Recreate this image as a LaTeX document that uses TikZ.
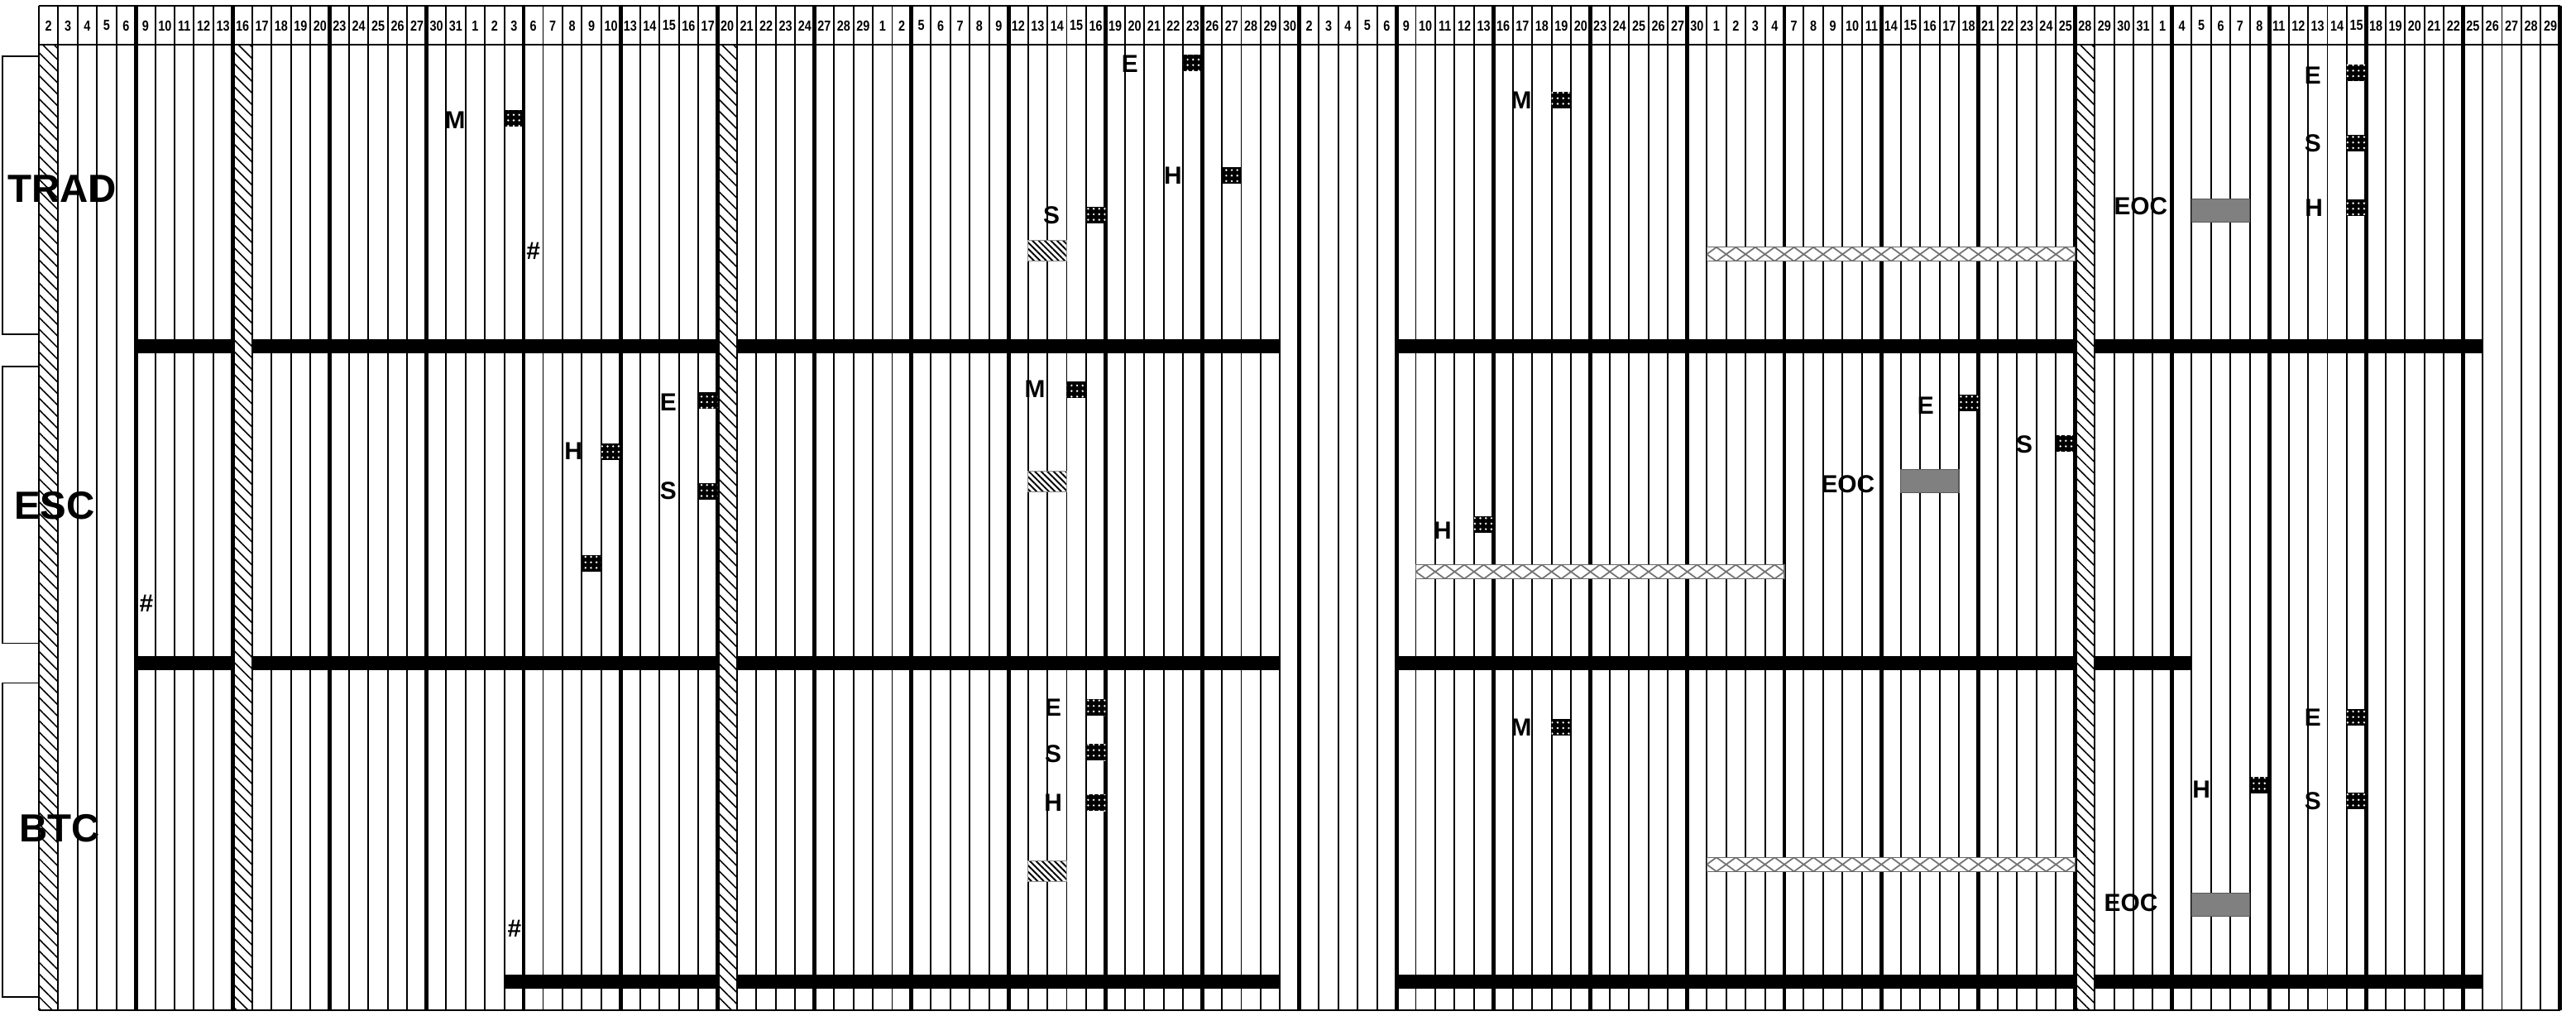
\documentclass[tikz,border=0pt]{standalone}
\usepackage{fontspec}
\setmainfont{Liberation Sans}
\newfontfamily\hdrfont[FakeStretch=0.82]{Liberation Sans}
\usepackage{tikz}
\usetikzlibrary{patterns.meta}
\tikzset{
  thinln/.style={line width=0.55pt},
  weekln/.style={line width=1.4pt},
  bar/.style={fill=black},
  hatchcol/.style={preaction={fill=white},pattern={Lines[angle=-45,distance=2.8pt,line width=0.45pt]}},
  diagbox/.style={preaction={fill=white},pattern={Lines[angle=-45,distance=1.5pt,line width=0.55pt]},draw=black!45,line width=0.2pt},
  eocbox/.style={fill=black!50,draw=black!65,line width=0.3pt},
  sq/.style={rectangle,inner sep=0pt,outer sep=0pt,minimum width=0.234cm,minimum height=0.2cm,preaction={fill=black},pattern={Dots[distance=1.9pt,radius=0.38pt]},pattern color=white},
  latln/.style={draw=black!55,line width=0.5pt},
  latbox/.style={draw=black!60,line width=0.3pt},
  hdr/.style={font=\hdrfont\bfseries\fontsize{5}{6}\selectfont,inner sep=0pt},
  lbl/.style={font=\bfseries\fontsize{8.5}{9}\selectfont,inner sep=0pt},
  rowlbl/.style={font=\bfseries\fontsize{13.5}{14}\selectfont,inner sep=0pt},
}
\begin{document}
\begin{tikzpicture}[x=0.23446cm,y=-0.01cm]
  \useasboundingbox (0,0) rectangle (132.82,1228);
  % hatched columns
  \foreach \c in {2,12,37,107}
    \path[hatchcol] (\c,54) rectangle (\c+1,1222);
  % grid
  \foreach \x in {2,...,132}
    \draw[thinln] (\x,7) -- (\x,1222);
  \foreach \x in {7,12,...,132}
    \draw[weekln] (\x,7) -- (\x,1222);
  \draw[thinln] (2,7) -- (132,7) (2,1222) -- (132,1222);
  \draw[line width=0.8pt] (2,54) -- (132,54);
  % days
  \foreach \d [count=\i] in {2,3,4,5,6,9,10,11,12,13,16,17,18,19,20,23,24,25,26,27,30,31,1,2,3,6,7,8,9,10,13,14,15,16,17,20,21,22,23,24,27,28,29,1,2,5,6,7,8,9,12,13,14,15,16,19,20,21,22,23,26,27,28,29,30,2,3,4,5,6,9,10,11,12,13,16,17,18,19,20,23,24,25,26,27,30,1,2,3,4,7,8,9,10,11,14,15,16,17,18,21,22,23,24,25,28,29,30,31,1,4,5,6,7,8,11,12,13,14,15,18,19,20,21,22,25,26,27,28,29}
    \node[hdr] (d\i) at (\i+1.5,31) {\d};
  % brackets
  \foreach \a/\b in {68/404,443/778,826/1206}
    \draw[thinln] (2,\a) -- (0.13,\a) -- (0.13,\b) -- (2,\b);
  \node[rowlbl] (trad) at (3.2,228) {TRAD};
  \node[rowlbl] (esc) at (2.81,612) {ESC};
  \node[rowlbl] (btc) at (3.07,1002) {BTC};
  % bars
  \foreach \a/\b/\t in {7/12/410,13/37/410,38/66/410,72/107/410,108/128/410,
      7/12/794,13/37/794,38/66/794,72/107/794,108/113/794,
      26/37/1179,38/66/1179,72/107/1179,108/128/1179}
    \fill[bar] (\a,\t) rectangle (\b,\t+17);
  % blocks
  \foreach \t in {291,570,1041}
    \path[diagbox] (53,\t) rectangle (55,\t+25);
  \foreach \a/\t in {113/241,98/568,113/1080}
    \path[eocbox] (\a,\t) rectangle (\a+3,\t+28);
  \foreach \a/\b/\t in {88/107/299,73/92/683,88/107/1037} {
    \begin{scope}
      \clip (\a,\t) rectangle (\b,\t+17);
      \fill[white] (\a,\t) rectangle (\b,\t+17);
      \foreach \k in {\a,...,\b}
        \draw[latln] (\k-0.5,\t) -- (\k+0.5,\t+17) (\k-0.5,\t+17) -- (\k+0.5,\t);
    \end{scope}
    \draw[latbox] (\a,\t) rectangle (\b,\t+17);
  }
  % marks
  \foreach \n/\c/\y in {tE/60/76,tM/25/143,tH/62/212,tS/55/260,tM2/79/121,tE2/120/88,tS2/120/173,tH2/120/251,
      eE/35/484,eH/30/546,eS/35/594,eX/29/681,eM/54/471,eE2/100/487,eS2/105/536,eH2/75/634,
      bE/55/856,bS/55/910,bH/55/971,bM/79/880,bE2/120/868,bS2/120/969,bH2/115/950}
    \node[sq] (\n) at (\c+1.5,\y) {};
  \foreach \n/\x/\y/\t in {tEl/58.26/77/E,tMl/23.46/145/M,tHl/60.48/212/H,tSl/54.21/260/S,tHash/27.5/304/\#,
      tM2l/78.44/121/M,tE2l/119.25/91/E,tS2l/119.25/173/S,tH2l/119.3/251/H,tEOC/110.38/249/EOC,
      eEl/34.46/487/E,eHl/29.56/546/H,eSl/34.46/594/S,eHash/7.55/730/\#,eMl/53.36/471/M,
      eE2l/99.29/491/E,eS2l/104.37/538/S,eEOC/95.28/586/EOC,eH2l/74.38/642/H,
      bEl/54.3/856/E,bSl/54.3/912/S,bHl/54.3/971/H,bHash/26.53/1123/\#,bMl/78.44/880/M,
      bE2l/119.25/868/E,bS2l/119.25/969/S,bH2l/113.5/955/H,bEOC/109.87/1092/EOC}
    \node[lbl] (\n) at (\x,\y) {\t};
\end{tikzpicture}
\end{document}
